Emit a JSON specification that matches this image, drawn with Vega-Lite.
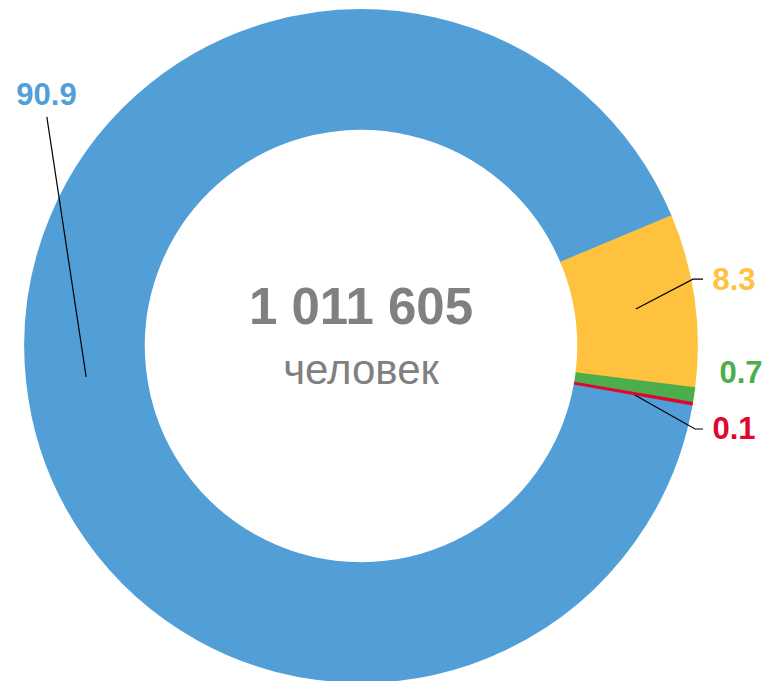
{
  "$schema": "https://vega.github.io/schema/vega-lite/v6.json",
  "width": 722,
  "height": 692,
  "autosize": {"type": "none"},
  "padding": {"left": 0, "top": 0, "right": 45, "bottom": 0},
  "background": "white",
  "config": {"view": {"stroke": null}, "font": "Liberation Sans"},
  "datasets": {
    "slices": [
      {"group": "a", "value": 90.9, "ord": 4},
      {"group": "b", "value": 8.3, "ord": 1},
      {"group": "c", "value": 0.7, "ord": 2},
      {"group": "d", "value": 0.1, "ord": 3}
    ],
    "labels": [
      {"group": "a", "label": "90.9", "lx": -0.936, "ly": 0.744},
      {"group": "b", "label": "8.3", "lx": 1.110, "ly": 0.193},
      {"group": "c", "label": "0.7", "lx": 1.131, "ly": -0.083},
      {"group": "d", "label": "0.1", "lx": 1.110, "ly": -0.250}
    ],
    "leaders": [
      {"group": "a", "seq": 1, "lx": -0.935, "ly": 0.682},
      {"group": "a", "seq": 2, "lx": -0.818, "ly": -0.092},
      {"group": "b", "seq": 1, "lx": 0.818, "ly": 0.110},
      {"group": "b", "seq": 2, "lx": 0.988, "ly": 0.199},
      {"group": "b", "seq": 3, "lx": 1.018, "ly": 0.199},
      {"group": "d", "seq": 1, "lx": 0.815, "ly": -0.146},
      {"group": "d", "seq": 2, "lx": 0.994, "ly": -0.247},
      {"group": "d", "seq": 3, "lx": 1.018, "ly": -0.247}
    ],
    "center": [
      {"line": "1 011 605", "lx": 0, "ly": 0.110, "kind": "total"},
      {"line": "человек", "lx": 0, "ly": -0.074, "kind": "unit"}
    ]
  },
  "layer": [
    {
      "data": {"name": "slices"},
      "mark": {"type": "arc", "outerRadius": 336, "innerRadius": 217, "strokeWidth": 1.6},
      "encoding": {
        "theta": {"field": "value", "type": "quantitative", "stack": true, "scale": {"range": [1.1746, 7.4578]}},
        "order": {"field": "ord", "type": "quantitative"},
        "color": {"field": "group", "type": "nominal", "legend": null,
          "scale": {"domain": ["a", "b", "c", "d"], "range": ["#529fd7", "#ffc23e", "#4dad4d", "#e2062f"]}},
        "stroke": {"field": "group", "type": "nominal", "legend": null,
          "scale": {"domain": ["a", "b", "c", "d"], "range": ["#529fd7", "#ffc23e", "#4dad4d", "#e2062f"]}}
      }
    },
    {
      "data": {"name": "leaders"},
      "mark": {"type": "line", "color": "black", "strokeWidth": 1.2},
      "encoding": {
        "x": {"field": "lx", "type": "quantitative", "axis": null, "scale": {"domain": [-1.0744, 1.0744]}},
        "y": {"field": "ly", "type": "quantitative", "axis": null, "scale": {"domain": [-1.0298, 1.0298]}},
        "detail": {"field": "group"},
        "order": {"field": "seq", "type": "quantitative"}
      }
    },
    {
      "data": {"name": "labels"},
      "mark": {"type": "text", "fontWeight": "bold", "fontSize": 31, "align": "center", "baseline": "middle"},
      "encoding": {
        "x": {"field": "lx", "type": "quantitative", "axis": null, "scale": {"domain": [-1.0744, 1.0744]}},
        "y": {"field": "ly", "type": "quantitative", "axis": null, "scale": {"domain": [-1.0298, 1.0298]}},
        "text": {"field": "label"},
        "color": {"field": "group", "type": "nominal", "legend": null,
          "scale": {"domain": ["a", "b", "c", "d"], "range": ["#529fd7", "#ffc23e", "#4dad4d", "#e2062f"]}}
      }
    },
    {
      "data": {"name": "center"},
      "transform": [{"filter": "datum.kind === 'total'"}],
      "mark": {"type": "text", "fontWeight": "bold", "fontSize": 51, "align": "center", "baseline": "middle", "color": "#808080"},
      "encoding": {
        "x": {"field": "lx", "type": "quantitative", "axis": null, "scale": {"domain": [-1.0744, 1.0744]}},
        "y": {"field": "ly", "type": "quantitative", "axis": null, "scale": {"domain": [-1.0298, 1.0298]}},
        "text": {"field": "line"}
      }
    },
    {
      "data": {"name": "center"},
      "transform": [{"filter": "datum.kind === 'unit'"}],
      "mark": {"type": "text", "fontSize": 42, "align": "center", "baseline": "middle", "color": "#808080"},
      "encoding": {
        "x": {"field": "lx", "type": "quantitative", "axis": null, "scale": {"domain": [-1.0744, 1.0744]}},
        "y": {"field": "ly", "type": "quantitative", "axis": null, "scale": {"domain": [-1.0298, 1.0298]}},
        "text": {"field": "line"}
      }
    }
  ]
}
